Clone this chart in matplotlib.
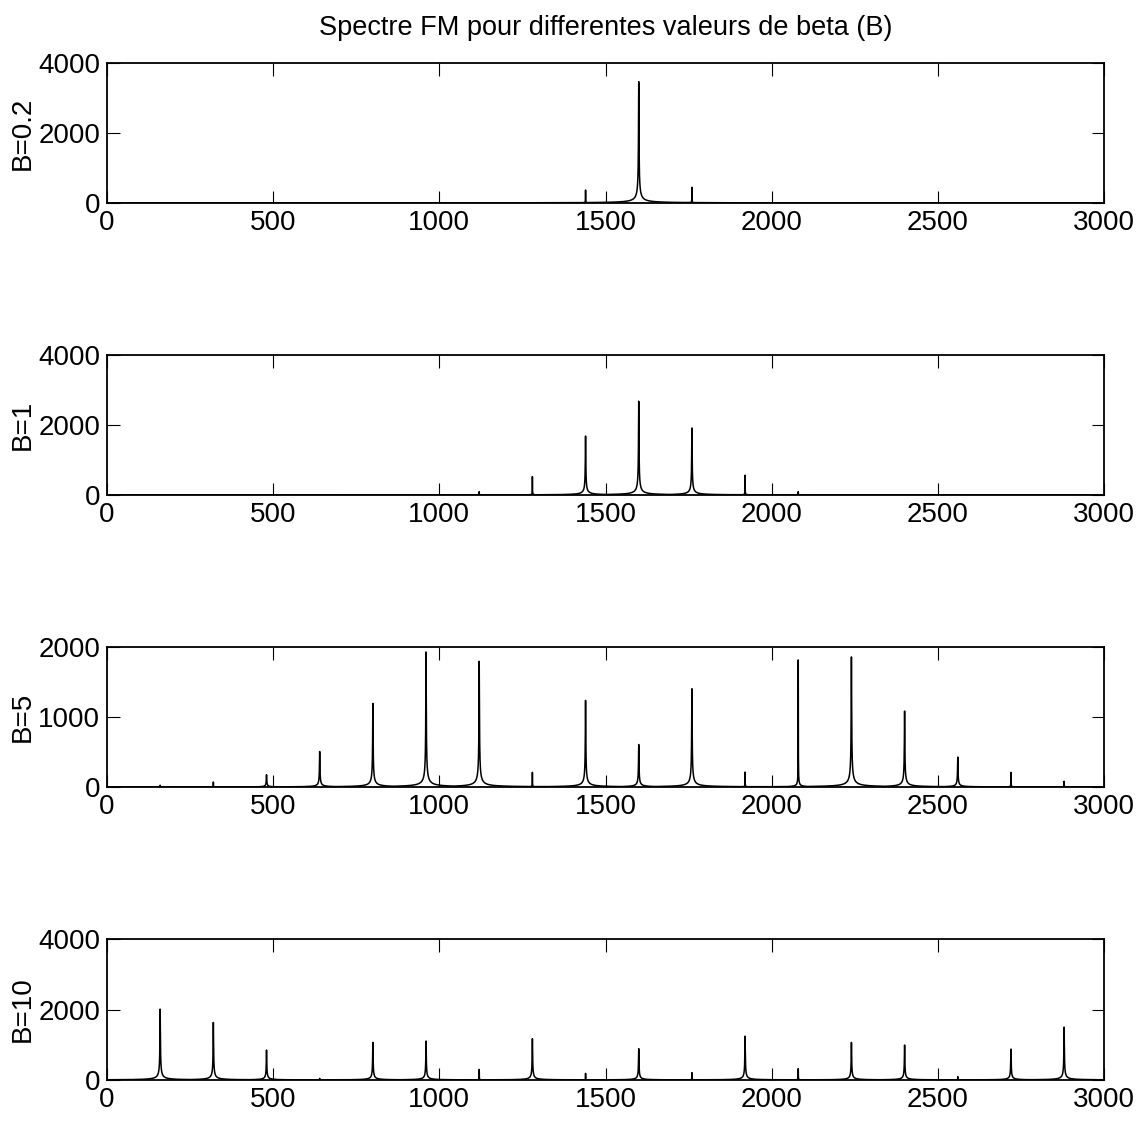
import numpy as np
import matplotlib
matplotlib.use("Agg")
import matplotlib.pyplot as plt

plt.rcParams['font.family'] = ['Liberation Sans', 'DejaVu Sans']

# ---- data ----
fm = 160  # modulation frequency spacing (Hz)
title = "Spectre FM pour differentes valeurs de beta (B)"
labels = ["B=0.2", "B=1", "B=5", "B=10"]
ylims = [4000, 4000, 2000, 4000]
yticks = [[0, 2000, 4000], [0, 2000, 4000], [0, 1000, 2000], [0, 2000, 4000]]
xticks = [0, 500, 1000, 1500, 2000, 2500, 3000]

# peak index k (frequency = k*fm) and peak height
k_b02 = [9, 10, 11]
h_b02 = [370, 3467, 450]
thin_b02 = [9, 11]

k_b1 = [7, 8, 9, 10, 11, 12, 13]
h_b1 = [95, 526, 1684, 2679, 1914, 565, 95]
thin_b1 = [7, 8, 12, 13]

k_b5 = [1, 2, 3, 4, 5, 6, 7, 8, 9, 10, 11, 12, 13, 14, 15, 16, 17, 18]
h_b5 = [25, 71, 175, 507, 1194, 1929, 1796, 209, 1237, 607, 1403, 213,
        1815, 1858, 1085, 427, 209, 81]
thin_b5 = [1, 2, 8, 12, 13, 17, 18]

k_b10 = [1, 2, 3, 4, 5, 6, 7, 8, 9, 10, 11, 12, 13, 14, 15, 16, 17, 18]
h_b10 = [2009, 1632, 849, 47, 1066, 1104, 300, 1170, 189, 887, 208, 1245,
         321, 1066, 991, 94, 877, 1500]
thin_b10 = [4, 7, 9, 11, 13, 16]

panels = [(k_b02, h_b02, thin_b02), (k_b1, h_b1, thin_b1),
          (k_b5, h_b5, thin_b5), (k_b10, h_b10, thin_b10)]

freq = np.arange(0, 3000.001, 0.25)


def spectrum(ks, hs, thin):
    y = np.zeros_like(freq)
    for k, h in zip(ks, hs):
        f0 = k * fm
        w = 0.12 if k in thin else 0.55
        y = np.maximum(y, h / np.sqrt(1 + ((freq - f0) / w) ** 2))
    return y


W, H = 1140, 1124
fig = plt.figure(figsize=(W / 100, H / 100), dpi=100)

left = 107 / W
width = (1104 - 107) / W
tops = [63, 355, 647, 939]
bottoms = [203, 495, 787, 1080]

fs = 20
for i, (ks, hs, thin) in enumerate(panels):
    ax = fig.add_axes([left, 1 - bottoms[i] / H, width, (bottoms[i] - tops[i]) / H])
    ax.plot(freq, spectrum(ks, hs, thin), color='black', linewidth=1.1)
    ax.set_xlim(0, 3000)
    ax.set_ylim(0, ylims[i])
    ax.set_xticks(xticks)
    ax.set_yticks(yticks[i])
    ax.tick_params(direction='in', top=True, right=True, length=9, width=0.8,
                   labelsize=fs, colors='black')
    ax.tick_params(axis='x', pad=5)
    ax.tick_params(axis='y', pad=5)
    for s in ax.spines.values():
        s.set_linewidth(1.3)
    ax.set_ylabel(labels[i], fontsize=fs, va='center')
    ax.yaxis.set_label_coords(-84 / 997, 0.5)

fig.text((107 + 1104) / 2 / W, 1 - 28 / H, title, ha='center', va='center', fontsize=19.5)

fig.savefig("out.png", dpi=100, facecolor='white')
